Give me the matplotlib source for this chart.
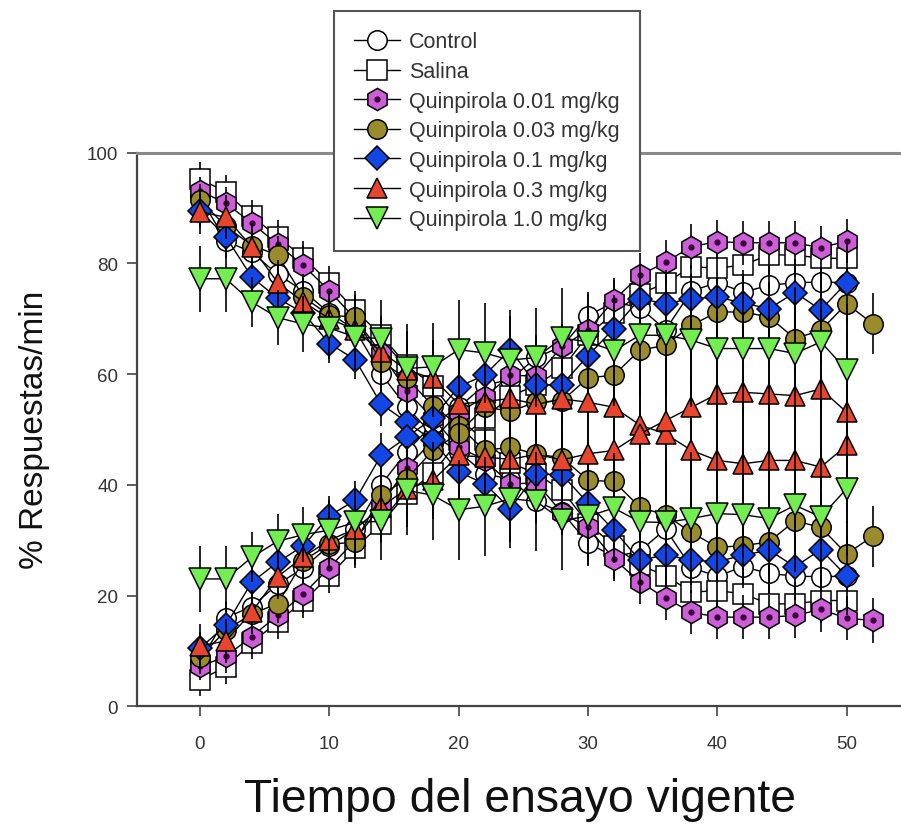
import numpy as np
import matplotlib
matplotlib.use("Agg")
import matplotlib.pyplot as plt
from matplotlib.lines import Line2D
from matplotlib.legend_handler import HandlerTuple

plt.rcParams['font.family'] = ['Liberation Sans', 'DejaVu Sans']

nan = np.nan
x = [0, 2, 4, 6, 8, 10, 12, 14, 16, 18, 20, 22, 24, 26, 28, 30, 32, 34, 36, 38, 40, 42, 44, 46, 48, 50, 52]

labels = ["Control", "Salina", "Quinpirola 0.01 mg/kg", "Quinpirola 0.03 mg/kg",
          "Quinpirola 0.1 mg/kg", "Quinpirola 0.3 mg/kg", "Quinpirola 1.0 mg/kg"]

# curve A: starts high ; curve B: starts low
control_a = [92, 84, 82, 78, 75, 71, 68, 60, 54, 49, 46, 42, 41, 37, 35, 29.5, 27, 28, 32, 25, 23.5, 25.2, 24, 23.5, 23.4, 23.5, nan]
control_b = [8, 16, 18, 22, 25, 29, 32, 40, 46, 51, 54, 58, 59, 63, 65, 70.5, 73, 72, 68, 75, 76.5, 74.8, 76, 76.5, 76.6, 76.5, nan]
salina_a = [95.2, 92.9, 88.5, 84.8, 81, 76.5, 71.5, 67, 61.6, 57.9, 52, 48, 44, 42, 39, 33, 29, 25.5, 23.6, 20.6, 20.9, 20.3, 18.5, 18.5, 19.1, 19.1, nan]
salina_b = [4.8, 7.1, 11.5, 15.2, 19, 23.5, 28.5, 33, 38.4, 42.1, 48, 52, 56, 58, 61, 67, 71, 74.5, 76.4, 79.4, 79.1, 79.7, 81.5, 81.5, 80.9, 80.9, nan]
q001_a = [93.1, 90.8, 87.3, 83.4, 79.6, 75.0, 70.0, 63.8, 56.9, 52.0, 46.8, 44.5, 40.1, 40.4, 34.9, 32.3, 26.6, 22.5, 19.5, 17.0, 16.1, 16.1, 16.1, 16.4, 17.5, 15.9, 15.5]
q001_b = [7.2, 9.0, 12.6, 16.4, 20.3, 25.0, 30.0, 36.3, 43.1, 48.0, 53.1, 55.8, 59.8, 59.6, 65.0, 67.9, 73.3, 77.8, 80.2, 83.0, 83.9, 83.7, 83.7, 83.7, 82.8, 84.0, nan]
q003_a = [91.4, 86.7, 83.2, 81.5, 73.9, 70.6, 70.3, 62.2, 59.2, 54.3, 50.7, 46.2, 46.8, 45.5, 44.9, 40.8, 40.6, 36.0, 34.5, 31.4, 28.7, 29.0, 29.7, 33.5, 32.3, 27.5, 30.7]
q003_b = [8.9, 13.7, 16.7, 18.5, 26.3, 29.3, 29.6, 38.1, 41.1, 46.2, 49.3, 54.0, 53.3, 54.9, 55.2, 59.3, 59.8, 64.3, 65.2, 68.8, 71.2, 71.2, 70.3, 66.4, 67.9, 72.7, 69.1]
q01_a = [89.5, 84.8, 77.5, 73.7, 71.0, 65.5, 62.6, 54.6, 51.3, 48.0, 42.3, 40.2, 35.7, 42.0, 41.8, 36.7, 31.8, 26.4, 27.3, 26.4, 26.1, 27.3, 28.2, 25.2, 28.3, 23.5, nan]
q01_b = [10.5, 14.6, 22.4, 26.0, 29.0, 34.4, 37.2, 45.3, 48.6, 52.0, 57.7, 59.8, 64.4, 58.0, 58.1, 63.3, 68.2, 73.6, 72.7, 73.6, 73.9, 72.8, 71.8, 74.7, 71.6, 76.5, nan]
q03_a = [89.3, 88.3, 83, 76.5, 73, 70, 68, 64, 60.7, 59.2, 54.6, 55.0, 55.6, 54.5, 55.5, 54.9, 54.0, 50.8, 49.2, 46.2, 44.4, 43.8, 44.4, 44.4, 43.2, 47.1, nan]
q03_b = [10.9, 11.8, 17, 23.4, 27, 30, 32, 36, 39.3, 40.8, 45.3, 45.0, 44.6, 45.5, 44.5, 45.6, 46.2, 49.2, 51.6, 54.0, 56.4, 56.7, 56.4, 56.1, 57.3, 53.1, nan]
q10_a = [77.2, 77.2, 73.0, 70.2, 69, 68.3, 66.7, 66.4, 61, 61.3, 64.4, 63.8, 62.5, 63, 66.5, 65.8, 64.2, 67.0, 67.0, 66.1, 64.6, 64.6, 64.6, 63.7, 65.8, 60.7, nan]
q10_b = [23.0, 23.0, 26.9, 29.8, 31, 31.8, 33.2, 33.4, 39.0, 38.1, 35.5, 36.1, 37.5, 37, 33.6, 34.3, 35.8, 33.3, 33.2, 33.9, 34.8, 34.6, 33.9, 36.3, 34.2, 39.3, nan]

control_err = [3, 3, 3, 3, 3, 3, 3.5, 3.5, 4, 4, 4, 4, 4, 4, 4, 4, 4, 4, 4, 4, 4, 4, 4, 4, 4, 4, nan]
salina_err = [3, 3, 3, 3, 3, 3, 3.5, 3.5, 4, 4, 4, 4, 4, 4, 4, 4, 4, 4, 4, 4, 4, 4, 4, 4, 4, 4, nan]
q001_err = [2.5, 3, 3, 3, 3.5, 3.5, 4, 4, 4, 4, 4, 4, 4, 4, 4, 4, 4, 4, 4, 4, 4, 4, 4, 4, 4, 4, 4]
q003_err = [3, 3, 3, 3.5, 4, 4, 4, 4, 4.5, 5, 5, 5, 5, 5, 5, 6, 6, 6, 6, 6, 6, 6, 6, 6, 6, 6, 5.5]
q01_err = [3, 3, 3, 3, 3, 3.5, 3.5, 4, 4, 4, 5, 5, 6, 6, 6, 6, 6, 6, 6, 6, 6, 6, 6, 6, 7, 7, nan]
q03_err = [4, 4, 4, 4, 5, 5, 5, 6, 7, 7, 8, 8, 8, 9, 9, 10, 11, 12, 13, 13, 13, 14, 14, 14, 14, 14, nan]
q10_err = [6, 6, 4.5, 5, 5, 5.5, 6, 7, 8, 8, 9, 9, 9, 9, 9, 9, 10, 11, 11, 12, 12, 12, 12, 12, 12, 12, nan]

series = [
    (control_a, control_b, control_err, 'o', 'white', 14),
    (salina_a, salina_b, salina_err, 's', 'white', 14),
    (q001_a, q001_b, q001_err, 'h', '#CC5FD8', 16),
    (q003_a, q003_b, q003_err, 'o', '#9A8C2C', 14),
    (q01_a, q01_b, q01_err, 'D', '#1247E6', 12),
    (q03_a, q03_b, q03_err, '^', '#E8452C', 15),
    (q10_a, q10_b, q10_err, 'v', '#72EE50', 16),
]

fig = plt.figure(figsize=(9.01, 8.29), dpi=100)
ax = fig.add_axes([137/901, 1 - 707.3/829, 1 - 137/901, (707.3 - 153.5)/829])

handles = []
for i, (ya, yb, err, mk, fc, ms) in enumerate(series):
    z = 3 + i
    for yy in (ya, yb):
        ax.errorbar(x, yy, yerr=err, fmt='-', color='black', lw=1.0,
                    ecolor='black', elinewidth=1.2, capsize=0,
                    marker=mk, ms=ms, mfc=fc, mec='black', mew=1.1, zorder=z)
        if mk == 'h':
            ax.plot(x, yy, ls='none', marker='o', ms=3.5, color='#3a003a', zorder=z + 0.5)
    h = Line2D([], [], color='black', lw=1.0, marker=mk, ms=ms, mfc=fc, mec='black', mew=1.1)
    if mk == 'h':
        dot = Line2D([], [], ls='none', marker='o', ms=3.5, color='#3a003a')
        h = (h, dot)
    handles.append(h)

ax.set_xlim(-4.87, 54.2)
ax.set_ylim(0, 100)
ax.set_xticks([0, 10, 20, 30, 40, 50])
ax.set_yticks([0, 20, 40, 60, 80, 100])
ax.spines['right'].set_visible(False)
for s in ['left', 'bottom']:
    ax.spines[s].set_color('#444444')
    ax.spines[s].set_linewidth(1.6)
ax.spines['top'].set_color('#8a8a8a')
ax.spines['top'].set_linewidth(2.2)
ax.tick_params(axis='both', direction='out', length=7, width=1.2, color='#444444',
               labelsize=13.5, labelcolor='#333333')
ax.tick_params(axis='x', pad=14)
ax.tick_params(axis='y', pad=6.5)

fig.text(35/901, 1 - 430/829, "% Respuestas/min", rotation=90, ha='center', va='center',
         fontsize=24, color='#111111')
fig.text(520/901, 1 - 800/829, "Tiempo del ensayo vigente", ha='center', va='center',
         fontsize=33.3, color='#111111')

leg = ax.legend(handles, labels, loc='upper left', bbox_to_anchor=(334/901, 1 - 12/829),
                bbox_transform=fig.transFigure, fontsize=15.5, frameon=True, fancybox=False,
                framealpha=1, edgecolor='#555555', borderpad=0.95, labelspacing=0.4,
                handlelength=2.1, handletextpad=0.45, borderaxespad=0,
                handler_map={tuple: HandlerTuple(ndivide=1)})
leg.get_frame().set_linewidth(1.5)
leg.set_zorder(20)
for t in leg.get_texts():
    t.set_color('#333333')

fig.savefig("out.png", dpi=100)
